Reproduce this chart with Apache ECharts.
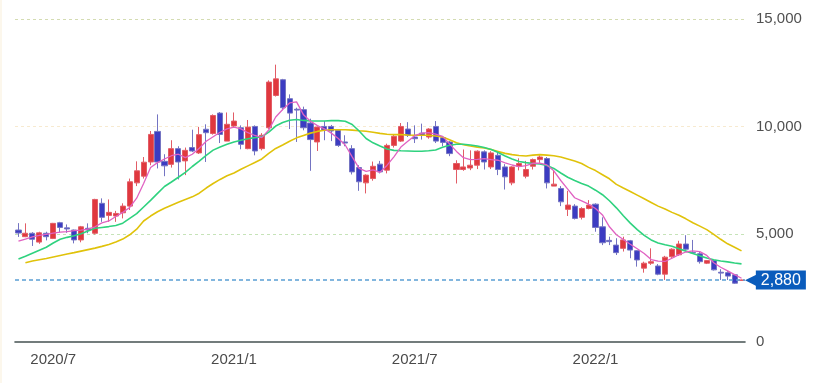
<!DOCTYPE html>
<html>
<head>
<meta charset="utf-8">
<script src="https://cdn.jsdelivr.net/npm/echarts@6/dist/echarts.min.js"></script>
<style>
html,body{margin:0;padding:0;background:#fff;}
#chart{position:absolute;left:0;top:0;width:839px;height:383px;}
#edge{position:absolute;left:0;top:0;width:2px;height:383px;background:#fcf7ec;}
</style>
</head>
<body>
<div id="chart"></div>
<div id="edge"></div>
<script>
// Weekly categories (week start dates)
const dates = [
'2020/6/1','2020/6/8','2020/6/15','2020/6/22','2020/6/29','2020/7/6','2020/7/13','2020/7/20','2020/7/27','2020/8/3',
'2020/8/10','2020/8/17','2020/8/24','2020/8/31','2020/9/7','2020/9/14','2020/9/21','2020/9/28','2020/10/5','2020/10/12',
'2020/10/19','2020/10/26','2020/11/2','2020/11/9','2020/11/16','2020/11/23','2020/11/30','2020/12/7','2020/12/14','2020/12/21',
'2020/12/28','2021/1/4','2021/1/11','2021/1/18','2021/1/25','2021/2/1','2021/2/8','2021/2/15','2021/2/22','2021/3/1',
'2021/3/8','2021/3/15','2021/3/22','2021/3/29','2021/4/5','2021/4/12','2021/4/19','2021/4/26','2021/5/3','2021/5/10',
'2021/5/17','2021/5/24','2021/5/31','2021/6/7','2021/6/14','2021/6/21','2021/6/28','2021/7/5','2021/7/12','2021/7/19',
'2021/7/26','2021/8/2','2021/8/9','2021/8/16','2021/8/23','2021/8/30','2021/9/6','2021/9/13','2021/9/20','2021/9/27',
'2021/10/4','2021/10/11','2021/10/18','2021/10/25','2021/11/1','2021/11/8','2021/11/15','2021/11/22','2021/11/29','2021/12/6',
'2021/12/13','2021/12/20','2021/12/27','2022/1/3','2022/1/10','2022/1/17','2022/1/24','2022/1/31','2022/2/7','2022/2/14',
'2022/2/21','2022/2/28','2022/3/7','2022/3/14','2022/3/21','2022/3/28','2022/4/4','2022/4/11','2022/4/18','2022/4/25',
'2022/5/2','2022/5/9','2022/5/16','2022/5/23','2022/5/30'
];

// [open, close, low, high]
const ohlc = [
[5200,5060,4880,5520],[4890,5050,4870,5510],[5050,4770,4460,5100],[4640,5070,4560,5120],[5050,4890,4720,5120],
[4810,5510,4780,5530],[5540,5320,5090,5580],[5300,5250,5070,5460],[5200,4740,4580,5220],[4740,5350,4630,5390],
[5280,5200,5050,5510],[5050,6620,4990,6650],[6440,5790,5580,6670],[5880,6020,5580,6620],[5850,5970,5580,6090],
[6000,6310,5740,6440],[6310,7440,6130,7590],[7390,7950,7240,8390],[7700,8350,7590,8590],[8360,9640,8210,9800],
[9780,8360,8060,10570],[8390,8180,7700,8720],[8250,8980,8100,9370],[8980,8360,7550,9090],[8410,8900,7750,9030],
[9030,8870,8820,9860],[8780,9630,8730,9990],[9880,9720,8360,10110],[9680,10520,9630,10570],[10630,9640,9240,10680],
[9330,10110,9330,10660],[10030,10260,9960,10660],[9950,9180,8950,10060],[8980,9980,8950,10310],[10010,8870,8670,10060],
[8980,9600,8900,9700],[9950,12070,9900,12150],[11450,12220,11400,12880],[12180,10880,10760,12220],[11300,10630,9890,11500],
[10810,10770,9290,10880],[10790,9950,9830,10930],[10170,9400,7950,10370],[9290,9980,8870,10010],[10010,9830,9370,10260],
[10010,9800,9330,10080],[9830,9130,9060,9860],[9290,9240,9090,9600],[8980,7900,7780,9140],[8100,7440,7020,8210],
[7390,7750,6900,7790],[7590,8160,7490,8380],[8260,7900,7830,8410],[7980,9130,7830,9210],[9130,9550,9030,9630],
[9330,10010,9290,10170],[9890,9600,9520,10210],[9520,9440,9240,10060],[9700,9600,9400,10140],[9520,9890,9440,9930],
[10010,9330,9240,10260],[9490,9270,9090,9550],[9290,8750,8630,9330],[8010,8290,7360,8440],[8010,8130,7950,8940],
[8080,8210,7980,8900],[8210,8860,8030,8900],[8830,8360,8010,8900],[8130,8780,8030,8860],[8670,8010,7750,8780],
[8130,7670,7080,8260],[7390,8130,7280,8160],[8160,8290,7970,8530],[7700,8010,7600,8410],[8160,8470,8010,8520],
[8470,8590,8320,8670],[8520,7390,7130,8590],[7240,7330,7240,7980],[7130,6510,6310,7240],[6160,6360,5850,7020],
[6310,5740,5690,6400],[5790,6200,5690,6260],[6200,6360,6160,6590],[6400,5320,5120,6440],[5350,4610,4500,5790],
[4720,4660,4500,4890],[4500,4150,4040,4820],[4350,4740,4200,4890],[4700,4270,3890,4740],[4240,3810,3500,4270],
[3430,3660,3220,3730],[3660,3730,3580,4350],[3530,3150,3100,3620],[3150,3940,2880,4000],[3960,4310,3910,4350],
[4050,4550,4000,4700],[4550,4310,4270,4960],[4160,4140,4100,4740],[4100,3730,3640,4200],[3660,3780,3620,3800],
[3780,3350,3320,3800],[3240,3200,2880,3380],[3220,3060,2880,3290],[3120,2730,2700,3150],[2860,2880,2840,2900]
];

// Moving averages
const maShort = [
4680,4780,4880,4950,5000,5060,5100,5130,5170,5200,
5240,5350,5530,5620,5830,6020,6250,6680,7360,8100,
8330,8500,8650,8720,8560,8720,9000,9320,9530,9740,
9900,9980,9900,9720,9590,9490,9850,10450,10800,11100,
11150,10550,10250,10050,9900,9700,9450,9150,8600,8060,
7920,7990,7880,8200,8600,9050,9320,9580,9700,9720,
9650,9550,9200,8850,8560,8470,8480,8520,8470,8440,
8320,8220,8140,8190,8300,8310,8220,7950,7500,7100,
6700,6550,6400,6200,5900,5350,4980,4760,4540,4330,
4110,3830,3760,3740,3890,4060,4180,4230,4200,4020,
3680,3470,3300,3130,2960
];
const maMid = [
3850,3980,4120,4260,4400,4600,4770,4860,4930,5030,
5150,5280,5320,5360,5410,5520,5740,5960,6270,6580,
6900,7220,7430,7650,7880,8150,8400,8670,8910,9060,
9180,9290,9370,9440,9490,9530,9750,10030,10190,10300,
10330,10290,10270,10260,10260,10280,10280,10250,10100,9800,
9450,9250,9100,8960,8900,8880,8870,8860,8860,8880,
8920,9040,9140,9180,9180,9150,9100,9030,8940,8800,
8640,8500,8380,8330,8290,8270,8200,8060,7850,7650,
7500,7360,7240,7050,6840,6560,6230,5860,5520,5220,
4950,4740,4600,4520,4450,4330,4220,4110,4000,3900,
3820,3760,3720,3670,3630
];
const maLong = [
'-',3680,3760,3820,3880,3950,4020,4090,4150,4220,
4290,4360,4440,4530,4640,4780,4980,5240,5620,5850,
6050,6210,6350,6490,6620,6740,6910,7150,7360,7550,
7720,7850,8020,8180,8340,8500,8760,8990,9150,9320,
9480,9590,9700,9780,9830,9860,9860,9860,9840,9810,
9790,9740,9690,9650,9630,9630,9610,9600,9600,9600,
9570,9520,9390,9250,9160,9100,9050,9010,8940,8850,
8760,8700,8660,8640,8680,8700,8680,8650,8590,8500,
8410,8290,8110,7960,7770,7580,7320,7150,6990,6820,
6650,6480,6310,6180,6020,5890,5720,5540,5380,5220,
5000,4770,4560,4400,4230
];
const lastPrice = 2880;
const yTicks = [0, 5000, 10000, 15000];

const FONT = 'Liberation Sans, Arial, sans-serif';
const chart = echarts.init(document.getElementById('chart'), null, {renderer: 'canvas'});
chart.setOption({
  animation: false,
  backgroundColor: '#ffffff',
  grid: {left: 15, right: 94, top: 19, bottom: 41, outerBoundsMode: 'none', containLabel: false},
  xAxis: {
    type: 'category',
    data: dates,
    boundaryGap: true,
    axisLine: {show: true, lineStyle: {color: '#465252', width: 1.6}},
    axisTick: {show: false},
    splitLine: {show: false},
    axisLabel: {
      fontFamily: FONT, fontSize: 15, color: '#4a4a4a', margin: 10,
      interval: function (idx, val) {
        const p = val.split('/');
        return (p[1] === '1' || p[1] === '7') && +p[2] <= 7;
      },
      formatter: function (val) { const p = val.split('/'); return p[0] + '/' + p[1]; }
    }
  },
  yAxis: {
    type: 'value',
    position: 'right',
    min: yTicks[0], max: yTicks[yTicks.length - 1], interval: yTicks[1] - yTicks[0],
    axisLine: {show: false},
    axisTick: {show: false},
    axisLabel: {
      fontFamily: FONT, fontSize: 15, color: '#505050', margin: 11,
      formatter: function (v) { return v.toLocaleString('en-US'); }
    },
    splitLine: {show: true, lineStyle: {color: ['#ffffff', '#c6e3b8', '#f7ead0', '#d4dcb2'], type: [3, 3], width: 1}}
  },
  series: [
    {
      type: 'candlestick',
      data: ohlc,
      barWidth: '80%',
      itemStyle: {
        color: '#e0383e', borderColor: '#e25c66',
        color0: '#3c3cc2', borderColor0: '#7474c2',
        borderWidth: 1
      },
      markLine: {
        silent: true,
        symbol: ['none', 'none'],
        data: [{yAxis: lastPrice}],
        lineStyle: {color: '#5a9fd4', type: [4, 3], width: 1.5},
        label: {
          show: true,
          position: 'end',
          distance: 0,
          formatter: function () { return '{a|◀}{b|' + lastPrice.toLocaleString('en-US') + '}'; },
          rich: {
            a: {fontFamily: 'DejaVu Sans', fontSize: 18, color: '#0a5cbc', padding: [0, -3, 0, 0], lineHeight: 19},
            b: {fontFamily: FONT, fontSize: 16, color: '#ffffff', backgroundColor: '#0a5cbc', padding: [2, 5, 1, 5], lineHeight: 16}
          }
        }
      }
    },
    {type: 'line', data: maLong, symbol: 'none', smooth: false, lineStyle: {color: '#e0c20a', width: 1.6}},
    {type: 'line', data: maMid, symbol: 'none', smooth: false, lineStyle: {color: '#2fd27f', width: 1.6}},
    {type: 'line', data: maShort, symbol: 'none', smooth: false, lineStyle: {color: '#e062c2', width: 1.3}}
  ]
});
</script>
</body>
</html>
